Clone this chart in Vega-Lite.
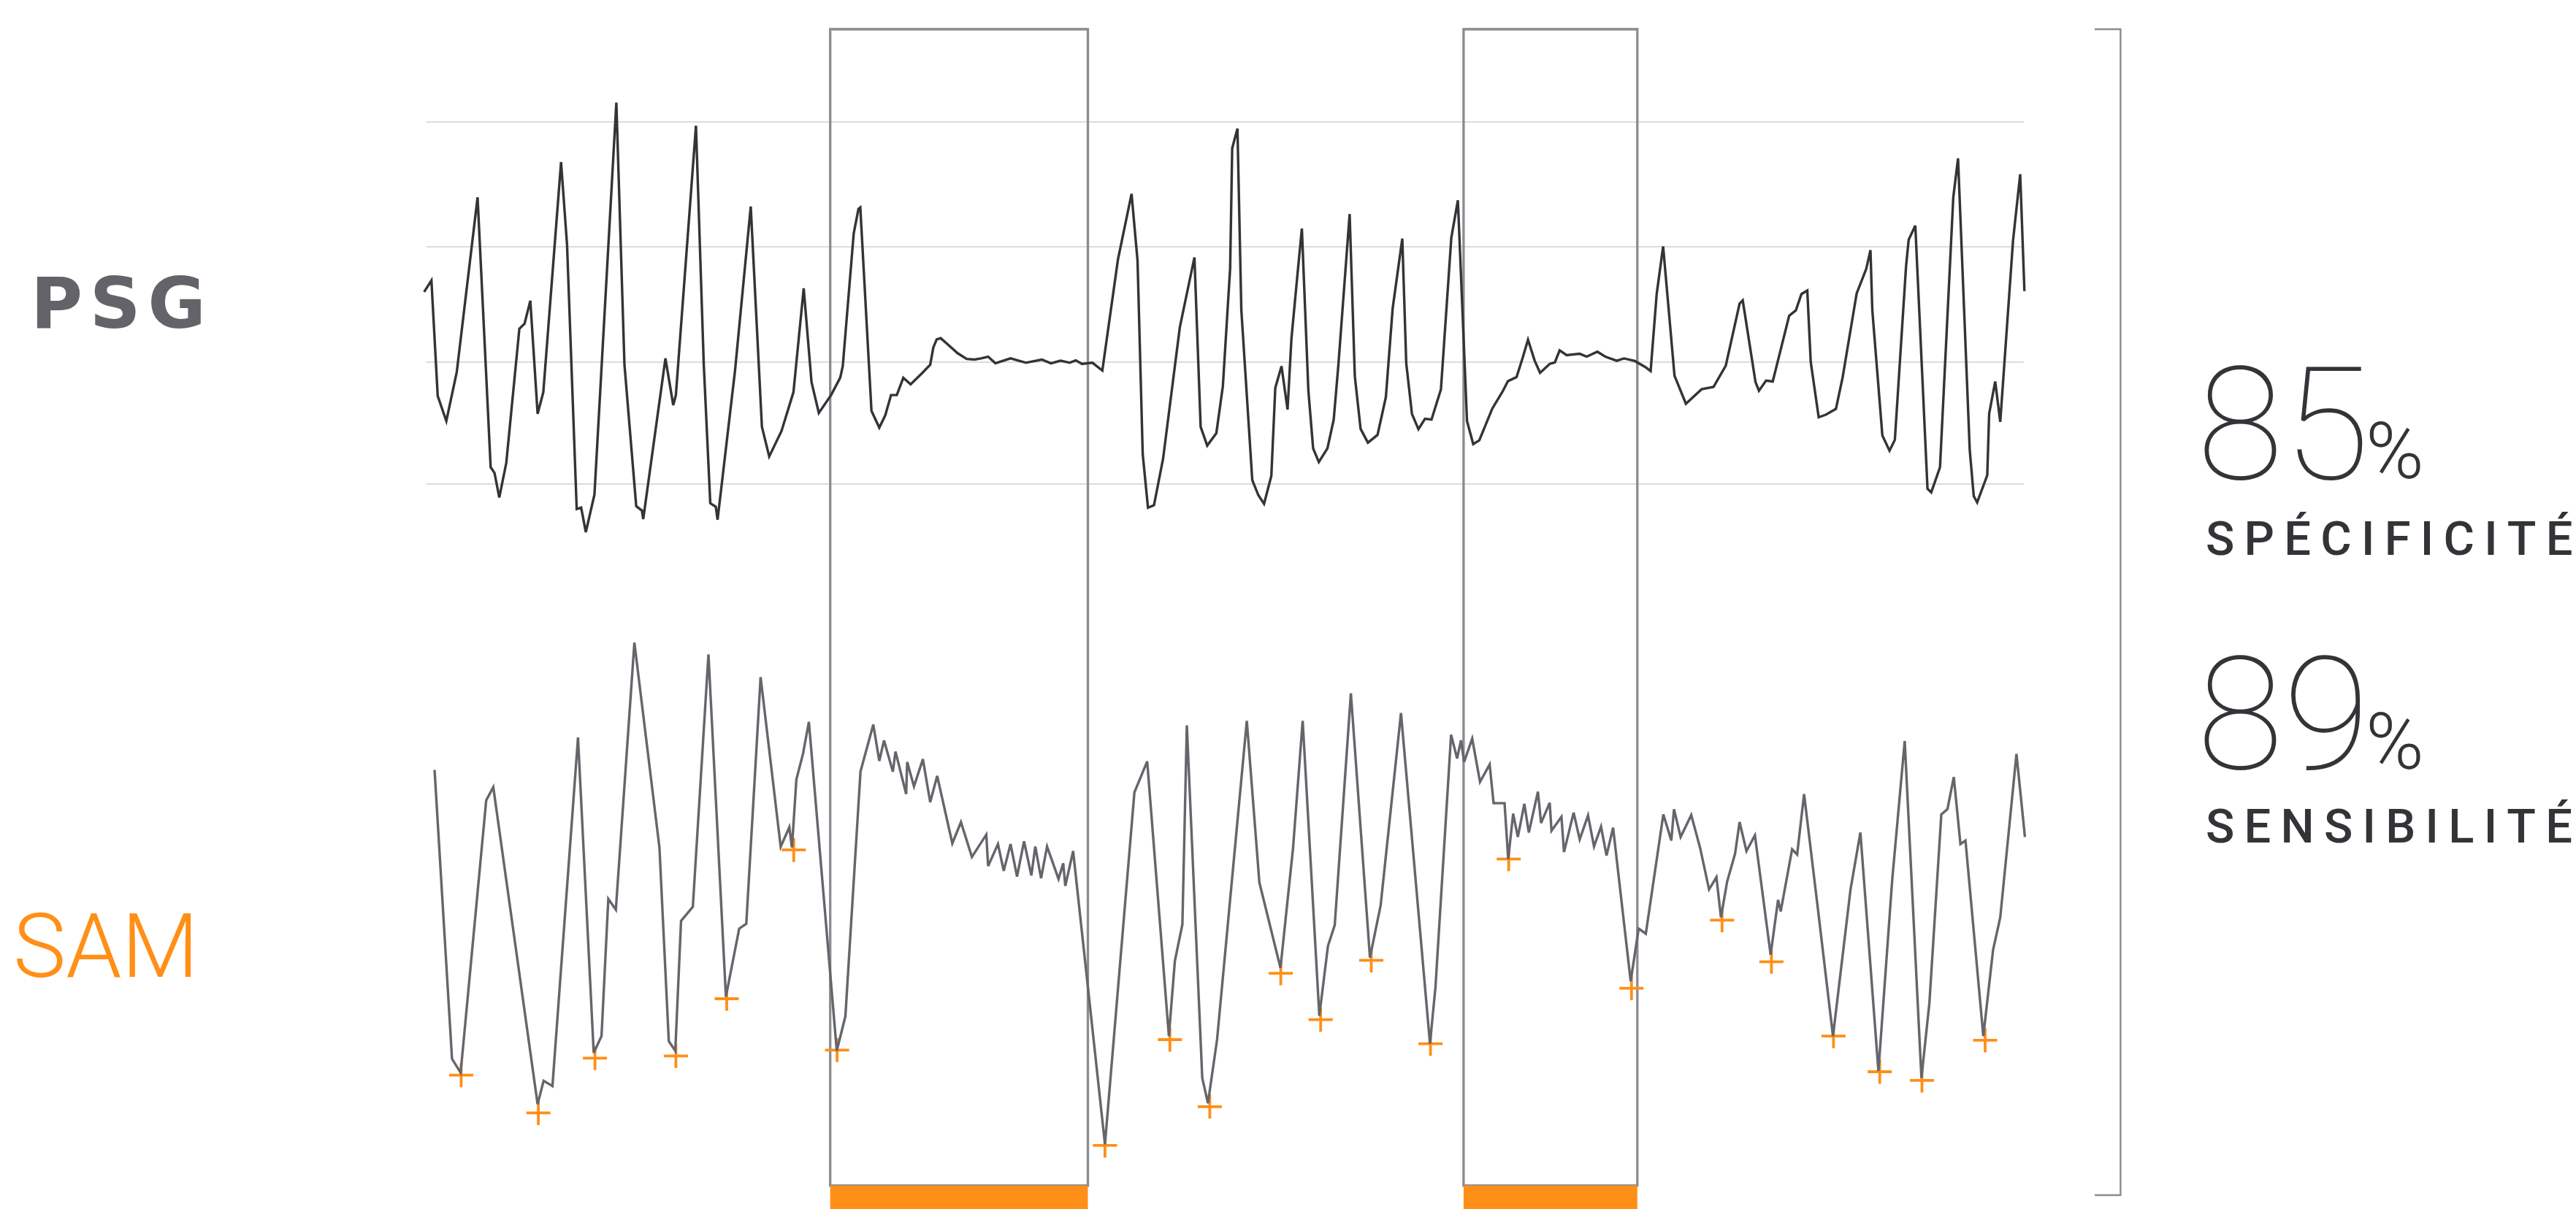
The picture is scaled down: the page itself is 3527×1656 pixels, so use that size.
{
  "$schema": "https://vega.github.io/schema/vega-lite/v6.json",
  "width": 3527,
  "height": 1656,
  "padding": 0,
  "autosize": {"type": "fit", "contains": "padding"},
  "background": "#ffffff",
  "config": {"view": {"stroke": null}},
  "datasets": {
    "psg": [
      {"t":0.07,"v":125.61},{"t":1.07,"v":127.19},{"t":1.93,"v":111.37},{"t":3.11,"v":107.93},{"t":4.54,"v":114.65},
      {"t":7.39,"v":138.57},{"t":9.18,"v":101.6},{"t":9.71,"v":100.81},{"t":10.36,"v":97.45},{"t":11.32,"v":102.2},
      {"t":13.11,"v":120.58},{"t":13.82,"v":121.26},{"t":14.61,"v":124.42},{"t":15.61,"v":108.92},{"t":16.39,"v":111.89},
      {"t":18.82,"v":143.4},{"t":19.64,"v":132.05},{"t":20.96,"v":95.87},{"t":21.57,"v":96.07},{"t":22.21,"v":92.71},
      {"t":23.39,"v":97.85},{"t":26.39,"v":151.54},{"t":27.5,"v":115.64},{"t":29.11,"v":96.27},{"t":29.89,"v":95.67},
      {"t":30.07,"v":94.49},{"t":33.11,"v":116.51},{"t":34.18,"v":110.11},{"t":34.54,"v":111.49},{"t":37.29,"v":148.38},
      {"t":38.36,"v":115.64},{"t":39.25,"v":96.66},{"t":40.0,"v":96.19},{"t":40.25,"v":94.41},{"t":42.64,"v":114.85},
      {"t":44.79,"v":137.31},{"t":46.32,"v":107.14},{"t":47.32,"v":103.07},{"t":49.0,"v":106.55},{"t":50.64,"v":111.89},
      {"t":52.04,"v":126.12},{"t":53.11,"v":113.27},{"t":54.11,"v":109.04},{"t":55.79,"v":111.49},{"t":57.04,"v":113.86},
      {"t":57.39,"v":115.44},{"t":58.89,"v":133.63},{"t":59.54,"v":136.99},{"t":59.79,"v":137.19},{"t":61.32,"v":109.32},
      {"t":62.39,"v":107.02},{"t":63.21,"v":108.72},{"t":64.0,"v":111.49},{"t":64.79,"v":111.49},{"t":65.68,"v":113.86},
      {"t":66.68,"v":112.95},{"t":68.29,"v":114.53},{"t":69.36,"v":115.64},{"t":69.79,"v":118.01},{"t":70.25,"v":119.12},
      {"t":70.79,"v":119.28},{"t":71.68,"v":118.49},{"t":73.11,"v":117.22},{"t":74.36,"v":116.43},{"t":75.43,"v":116.35},
      {"t":76.32,"v":116.51},{"t":77.29,"v":116.75},{"t":78.29,"v":115.84},{"t":80.36,"v":116.51},{"t":82.46,"v":115.92},
      {"t":84.64,"v":116.35},{"t":85.89,"v":115.84},{"t":87.21,"v":116.19},{"t":88.46,"v":115.92},{"t":89.29,"v":116.24},
      {"t":90.14,"v":115.76},{"t":91.57,"v":115.92},{"t":92.93,"v":114.85},{"t":95.07,"v":130.07},{"t":96.93,"v":139.05},
      {"t":97.75,"v":129.88},{"t":98.46,"v":103.38},{"t":99.18,"v":96.07},{"t":100.0,"v":96.39},{"t":101.25,"v":102.79},
      {"t":103.54,"v":120.78},{"t":105.54,"v":130.35},{"t":106.39,"v":107.14},{"t":107.29,"v":104.57},{"t":108.54,"v":106.27},
      {"t":109.43,"v":112.68},{"t":110.43,"v":128.89},{"t":110.71,"v":145.3},{"t":111.43,"v":147.99},{"t":111.96,"v":123.15},
      {"t":113.46,"v":99.83},{"t":114.29,"v":97.77},{"t":115.07,"v":96.58},{"t":116.07,"v":100.42},{"t":116.61,"v":112.48},
      {"t":117.46,"v":115.44},{"t":118.29,"v":109.51},{"t":118.82,"v":119.2},{"t":119.71,"v":128.69},{"t":120.25,"v":134.3},
      {"t":121.14,"v":112.08},{"t":121.79,"v":104.18},{"t":122.57,"v":102.32},{"t":123.75,"v":104.18},{"t":124.61,"v":108.13},
      {"t":125.25,"v":115.64},{"t":126.79,"v":136.28},{"t":127.5,"v":114.06},{"t":128.29,"v":106.86},{"t":129.29,"v":104.97},
      {"t":130.61,"v":106.03},{"t":131.75,"v":111.21},{"t":132.68,"v":123.35},{"t":134.0,"v":132.92},{"t":134.54,"v":115.84},
      {"t":135.32,"v":108.92},{"t":136.21,"v":106.82},{"t":137.11,"v":108.25},{"t":138.0,"v":108.13},{"t":139.29,"v":112.28},
      {"t":140.71,"v":133.04},{"t":141.61,"v":138.18},{"t":142.86,"v":107.93},{"t":143.71,"v":104.77},{"t":144.54,"v":105.28},
      {"t":146.32,"v":109.63},{"t":147.75,"v":112.0},{"t":148.46,"v":113.39},{"t":149.64,"v":113.94},{"t":150.43,"v":116.43},
      {"t":151.21,"v":119.08},{"t":152.11,"v":116.24},{"t":152.86,"v":114.53},{"t":154.18,"v":115.76},{"t":154.89,"v":115.96},
      {"t":155.54,"v":117.62},{"t":156.5,"v":116.95},{"t":158.29,"v":117.14},{"t":159.25,"v":116.75},{"t":160.71,"v":117.42},
      {"t":161.79,"v":116.75},{"t":163.36,"v":116.19},{"t":164.36,"v":116.51},{"t":165.82,"v":116.16},{"t":167.27,"v":115.33},
      {"t":168.0,"v":114.77},{"t":168.83,"v":125.33},{"t":169.71,"v":131.85},{"t":171.27,"v":114.14},{"t":172.83,"v":110.3},
      {"t":174.98,"v":112.28},{"t":176.61,"v":112.6},{"t":178.29,"v":115.52},{"t":180.18,"v":124.02},{"t":180.61,"v":124.46},
      {"t":182.36,"v":113.27},{"t":182.83,"v":112.08},{"t":183.81,"v":113.47},{"t":184.72,"v":113.35},{"t":186.97,"v":122.36},
      {"t":187.88,"v":123.08},{"t":188.65,"v":125.33},{"t":189.45,"v":125.8},{"t":189.92,"v":116.04},{"t":191.01,"v":108.45},
      {"t":191.99,"v":108.8},{"t":193.37,"v":109.59},{"t":194.28,"v":113.86},{"t":196.21,"v":125.41},{"t":197.52,"v":128.77},
      {"t":198.1,"v":131.34},{"t":198.35,"v":123.15},{"t":199.73,"v":105.95},{"t":200.71,"v":103.86},{"t":201.44,"v":105.36},
      {"t":202.97,"v":129.09},{"t":203.33,"v":132.76},{"t":204.24,"v":134.7},{"t":205.91,"v":98.64},{"t":206.42,"v":98.16},
      {"t":207.62,"v":101.6},{"t":209.44,"v":138.57},{"t":210.09,"v":143.91},{"t":211.69,"v":103.98},{"t":212.24,"v":97.65},
      {"t":212.71,"v":96.78},{"t":214.09,"v":100.5},{"t":214.35,"v":108.92},{"t":215.18,"v":113.35},{"t":215.87,"v":107.81},
      {"t":217.62,"v":132.64},{"t":218.6,"v":141.74},{"t":219.18,"v":125.72}
    ],
    "sam": [
      {"t":1.5,"v":60.13},{"t":3.89,"v":20.57},{"t":5.07,"v":18.66},{"t":8.57,"v":55.97},{"t":9.54,"v":57.78},
      {"t":15.61,"v":14.36},{"t":16.43,"v":17.56},{"t":17.64,"v":16.84},{"t":21.14,"v":64.58},{"t":23.29,"v":21.39},
      {"t":24.36,"v":23.68},{"t":25.29,"v":42.48},{"t":26.32,"v":41.0},{"t":28.86,"v":77.59},{"t":32.29,"v":49.51},
      {"t":33.57,"v":22.97},{"t":34.46,"v":21.67},{"t":35.25,"v":39.47},{"t":36.86,"v":41.38},{"t":39.0,"v":75.96},
      {"t":41.39,"v":29.09},{"t":43.21,"v":38.41},{"t":44.18,"v":39.08},{"t":46.14,"v":72.85},{"t":48.89,"v":49.61},
      {"t":50.07,"v":52.29},{"t":50.43,"v":49.51},{"t":51.04,"v":58.84},{"t":51.96,"v":62.42},{"t":52.75,"v":66.73},
      {"t":56.57,"v":21.67},{"t":57.75,"v":26.41},{"t":59.82,"v":59.94},{"t":61.57,"v":66.35},{"t":62.39,"v":61.37},
      {"t":63.04,"v":64.19},{"t":64.25,"v":59.89},{"t":64.61,"v":62.66},{"t":66.07,"v":56.83},{"t":66.21,"v":61.23},
      {"t":67.14,"v":57.88},{"t":68.36,"v":61.61},{"t":69.36,"v":55.73},{"t":70.32,"v":59.32},{"t":72.39,"v":50.08},
      {"t":73.57,"v":53.0},{"t":75.07,"v":48.22},{"t":77.04,"v":51.28},{"t":77.29,"v":46.98},{"t":78.64,"v":49.99},
      {"t":79.43,"v":46.31},{"t":80.36,"v":49.99},{"t":81.25,"v":45.54},{"t":82.21,"v":50.37},{"t":83.21,"v":45.68},
      {"t":83.75,"v":49.65},{"t":84.54,"v":45.3},{"t":85.36,"v":49.65},{"t":86.93,"v":45.21},{"t":87.57,"v":47.36},
      {"t":87.86,"v":44.25},{"t":88.93,"v":49.03},{"t":93.29,"v":8.86},{"t":97.32,"v":57.07},{"t":99.07,"v":61.32},
      {"t":102.04,"v":23.68},{"t":102.86,"v":33.97},{"t":103.89,"v":38.99},{"t":104.5,"v":66.25},{"t":106.61,"v":17.94},
      {"t":107.39,"v":14.5},{"t":108.64,"v":23.21},{"t":112.71,"v":66.87},{"t":114.43,"v":44.73},{"t":117.32,"v":33.01},
      {"t":119.04,"v":49.41},{"t":120.36,"v":66.87},{"t":122.64,"v":26.46},{"t":123.82,"v":36.02},{"t":124.75,"v":38.89},
      {"t":126.96,"v":70.65},{"t":129.57,"v":34.44},{"t":131.04,"v":41.62},{"t":133.82,"v":67.93},{"t":137.79,"v":22.63},
      {"t":138.54,"v":30.38},{"t":140.68,"v":64.96},{"t":141.5,"v":61.71},{"t":142.04,"v":64.19},{"t":142.46,"v":61.23},
      {"t":143.57,"v":64.43},{"t":144.64,"v":58.5},{"t":145.96,"v":60.89},{"t":146.5,"v":55.59},{"t":148.0,"v":55.59},
      {"t":148.5,"v":47.93},{"t":149.18,"v":54.15},{"t":149.82,"v":50.95},{"t":150.71,"v":55.49},{"t":151.32,"v":51.57},
      {"t":152.57,"v":57.16},{"t":153.0,"v":52.86},{"t":154.18,"v":55.63},{"t":154.43,"v":51.81},{"t":155.79,"v":53.72},
      {"t":156.14,"v":48.89},{"t":157.46,"v":54.29},{"t":158.29,"v":50.61},{"t":159.43,"v":53.91},{"t":160.25,"v":49.65},
      {"t":161.21,"v":52.38},{"t":161.96,"v":48.41},{"t":162.86,"v":52.24},{"t":165.27,"v":31.19},{"t":166.36,"v":38.41},
      {"t":167.34,"v":37.7},{"t":169.74,"v":54.05},{"t":170.83,"v":50.47},{"t":171.2,"v":54.77},{"t":172.11,"v":50.95},
      {"t":173.56,"v":53.96},{"t":174.8,"v":49.37},{"t":176.0,"v":43.77},{"t":177.01,"v":45.45},{"t":177.63,"v":39.94},
      {"t":178.47,"v":44.82},{"t":179.56,"v":48.65},{"t":180.18,"v":53.0},{"t":181.12,"v":49.03},{"t":182.28,"v":51.18},
      {"t":184.43,"v":34.83},{"t":185.45,"v":42.34},{"t":185.81,"v":40.76},{"t":187.37,"v":49.27},{"t":188.06,"v":48.55},
      {"t":189.01,"v":56.83},{"t":190.9,"v":41.14},{"t":192.97,"v":23.68},{"t":195.37,"v":43.77},{"t":196.72,"v":51.57},
      {"t":199.19,"v":18.9},{"t":201.08,"v":45.11},{"t":202.79,"v":64.1},{"t":205.08,"v":17.94},{"t":206.17,"v":28.23},
      {"t":207.8,"v":54.05},{"t":208.64,"v":54.77},{"t":209.51,"v":59.17},{"t":210.42,"v":49.99},{"t":211.11,"v":50.47},
      {"t":213.55,"v":23.68},{"t":214.89,"v":35.5},{"t":215.87,"v":39.94},{"t":218.09,"v":62.33},{"t":219.25,"v":50.95}
    ],
    "detections": [
      {"t":5.14,"v":18.33},{"t":15.71,"v":13.16},{"t":23.46,"v":20.67},{"t":34.54,"v":20.96},{"t":41.5,"v":28.8},
      {"t":50.68,"v":49.18},{"t":56.61,"v":21.77},{"t":93.29,"v":8.71},{"t":102.18,"v":23.2},{"t":107.64,"v":14.02},
      {"t":117.36,"v":32.29},{"t":122.82,"v":25.93},{"t":129.75,"v":34.06},{"t":137.86,"v":22.63},{"t":148.57,"v":47.93},
      {"t":165.38,"v":30.24},{"t":177.78,"v":39.56},{"t":184.54,"v":33.87},{"t":193.04,"v":23.68},{"t":199.37,"v":18.8},
      {"t":205.15,"v":17.61},{"t":213.8,"v":23.11}
    ],
    "grid": [{"v":148.9},{"v":131.8},{"v":116.0},{"v":99.3}],
    "windows": [{"t":55.67,"t2":90.95},{"t":142.39,"t2":166.18}],
    "bracket": [
      {"i":0,"t":228.8,"v":161.6},{"i":1,"t":232.34,"v":161.6},{"i":2,"t":232.34,"v":1.9},{"i":3,"t":228.8,"v":1.9}
    ]
  },
  "layer": [
    {
      "data": {"name": "grid"},
      "mark": {"type": "rule", "color": "#dcdcdc", "strokeWidth": 1.8},
      "encoding": {
        "x": {"datum": 0.36, "type": "quantitative", "scale": {"domain": [-58, 294.7], "nice": false, "zero": false}, "axis": null},
        "x2": {"datum": 219.1},
        "y": {"field": "v", "type": "quantitative", "scale": {"domain": [0, 165.6], "nice": false, "zero": false}, "axis": null}
      }
    },
    {
      "data": {"name": "windows"},
      "mark": {"type": "rect", "fill": null, "fillOpacity": 0, "stroke": "#8b8b90", "strokeWidth": 3.3},
      "encoding": {
        "x": {"field": "t", "type": "quantitative", "scale": {"domain": [-58, 294.7], "nice": false, "zero": false}, "axis": null},
        "x2": {"field": "t2"},
        "y": {"datum": 3.2, "type": "quantitative", "scale": {"domain": [0, 165.6], "nice": false, "zero": false}, "axis": null},
        "y2": {"datum": 161.6}
      }
    },
    {
      "data": {"name": "windows"},
      "mark": {"type": "rect", "fill": "#FF8F17", "stroke": null},
      "encoding": {
        "x": {"field": "t", "type": "quantitative", "scale": {"domain": [-58, 294.7], "nice": false, "zero": false}, "axis": null},
        "x2": {"field": "t2"},
        "y": {"datum": 0, "type": "quantitative", "scale": {"domain": [0, 165.6], "nice": false, "zero": false}, "axis": null},
        "y2": {"datum": 3.2}
      }
    },
    {
      "data": {"name": "psg"},
      "mark": {"type": "line", "color": "#333338", "strokeWidth": 3.4, "strokeJoin": "miter"},
      "encoding": {
        "x": {"field": "t", "type": "quantitative", "scale": {"domain": [-58, 294.7], "nice": false, "zero": false}, "axis": null},
        "y": {"field": "v", "type": "quantitative", "scale": {"domain": [0, 165.6], "nice": false, "zero": false}, "axis": null}
      }
    },
    {
      "data": {"name": "detections"},
      "mark": {"type": "point", "shape": "M-1,0H1M0,-1V1", "filled": false, "stroke": "#FF8F17", "strokeWidth": 3.8, "size": 1089, "opacity": 1},
      "encoding": {
        "x": {"field": "t", "type": "quantitative", "scale": {"domain": [-58, 294.7], "nice": false, "zero": false}, "axis": null},
        "y": {"field": "v", "type": "quantitative", "scale": {"domain": [0, 165.6], "nice": false, "zero": false}, "axis": null}
      }
    },
    {
      "data": {"name": "sam"},
      "mark": {"type": "line", "color": "#65656b", "strokeWidth": 3.4, "strokeJoin": "miter"},
      "encoding": {
        "x": {"field": "t", "type": "quantitative", "scale": {"domain": [-58, 294.7], "nice": false, "zero": false}, "axis": null},
        "y": {"field": "v", "type": "quantitative", "scale": {"domain": [0, 165.6], "nice": false, "zero": false}, "axis": null}
      }
    },
    {
      "data": {"name": "bracket"},
      "mark": {"type": "line", "color": "#8b8b90", "strokeWidth": 2.4},
      "encoding": {
        "x": {"field": "t", "type": "quantitative", "scale": {"domain": [-58, 294.7], "nice": false, "zero": false}, "axis": null},
        "y": {"field": "v", "type": "quantitative", "scale": {"domain": [0, 165.6], "nice": false, "zero": false}, "axis": null},
        "order": {"field": "i", "type": "quantitative"}
      }
    },
    {
      "data": {"values": [{"t": -53.8, "v": 120.7, "label": "P\u200aS\u200aG"}]},
      "mark": {"type": "text", "font": "DejaVu Sans", "fontWeight": "bold", "fontSize": 97, "color": "#636369", "align": "left", "baseline": "alphabetic"},
      "encoding": {
        "x": {"field": "t", "type": "quantitative", "scale": {"domain": [-58, 294.7], "nice": false, "zero": false}, "axis": null},
        "y": {"field": "v", "type": "quantitative", "scale": {"domain": [0, 165.6], "nice": false, "zero": false}, "axis": null},
        "text": {"field": "label"}
      }
    },
    {
      "data": {"values": [{"t": -56.2, "v": 31.8, "label": "SAM"}]},
      "mark": {"type": "text", "font": "Roboto", "fontWeight": 300, "fontSize": 122, "color": "#FF8F17", "align": "left", "baseline": "alphabetic"},
      "encoding": {
        "x": {"field": "t", "type": "quantitative", "scale": {"domain": [-58, 294.7], "nice": false, "zero": false}, "axis": null},
        "y": {"field": "v", "type": "quantitative", "scale": {"domain": [0, 165.6], "nice": false, "zero": false}, "axis": null},
        "text": {"field": "label"}
      }
    },
    {
      "data": {"values": [{"t": 242.8, "v": 100.0, "label": "85"}, {"t": 242.8, "v": 60.3, "label": "89"}]},
      "mark": {"type": "text", "font": "Roboto", "fontWeight": 100, "fontSize": 216, "color": "#333338", "align": "left", "baseline": "alphabetic"},
      "encoding": {
        "x": {"field": "t", "type": "quantitative", "scale": {"domain": [-58, 294.7], "nice": false, "zero": false}, "axis": null},
        "y": {"field": "v", "type": "quantitative", "scale": {"domain": [0, 165.6], "nice": false, "zero": false}, "axis": null},
        "text": {"field": "label"}
      }
    },
    {
      "data": {"values": [{"t": 265.9, "v": 100.1, "label": "%"}, {"t": 265.9, "v": 60.3, "label": "%"}]},
      "mark": {"type": "text", "font": "Roboto", "fontWeight": 300, "fontSize": 108, "color": "#333338", "align": "left", "baseline": "alphabetic"},
      "encoding": {
        "x": {"field": "t", "type": "quantitative", "scale": {"domain": [-58, 294.7], "nice": false, "zero": false}, "axis": null},
        "y": {"field": "v", "type": "quantitative", "scale": {"domain": [0, 165.6], "nice": false, "zero": false}, "axis": null},
        "text": {"field": "label"}
      }
    },
    {
      "data": {"values": [
        {"t": 244.0, "v": 89.6, "label": "S\u2009P\u2009É\u2009C\u2009I\u2009F\u2009I\u2009C\u2009I\u2009T\u2009É"},
        {"t": 244.0, "v": 50.2, "label": "S\u2009E\u2009N\u2009S\u2009I\u2009B\u2009I\u2009L\u2009I\u2009T\u2009É"}
      ]},
      "mark": {"type": "text", "font": "Roboto", "fontWeight": 500, "fontSize": 65, "color": "#333338", "align": "left", "baseline": "alphabetic"},
      "encoding": {
        "x": {"field": "t", "type": "quantitative", "scale": {"domain": [-58, 294.7], "nice": false, "zero": false}, "axis": null},
        "y": {"field": "v", "type": "quantitative", "scale": {"domain": [0, 165.6], "nice": false, "zero": false}, "axis": null},
        "text": {"field": "label"}
      }
    }
  ]
}
